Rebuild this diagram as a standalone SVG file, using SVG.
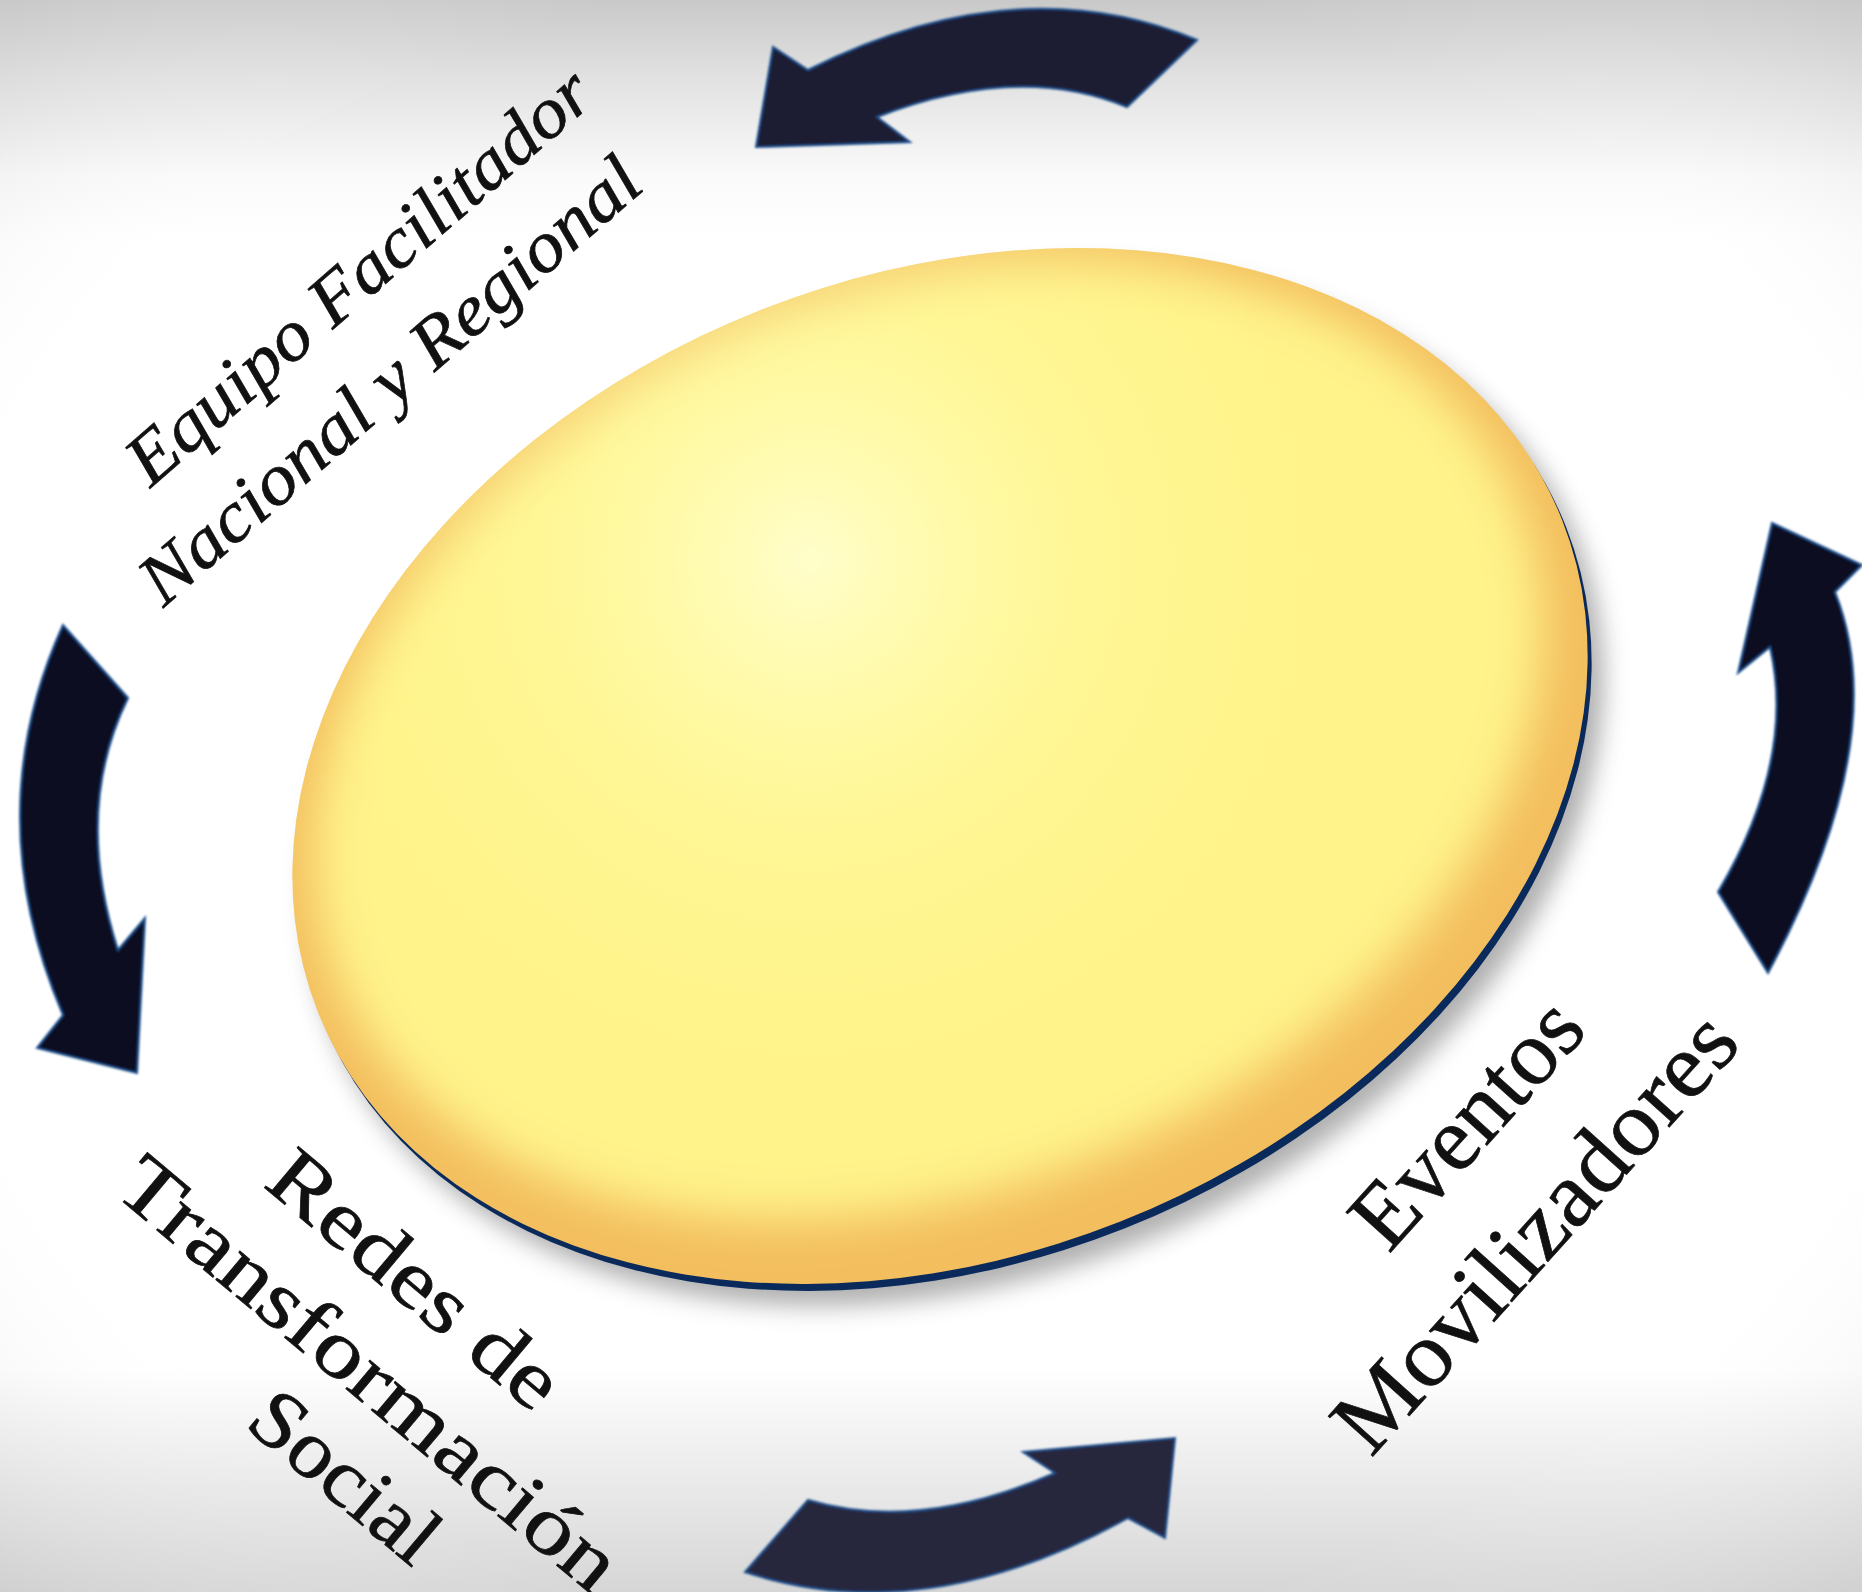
<svg xmlns="http://www.w3.org/2000/svg" width="1862" height="1592" viewBox="0 0 1862 1592">
<defs>
<linearGradient id="bg" x1="0" y1="0" x2="0" y2="1">
<stop offset="0" stop-color="#C9C9C9"/>
<stop offset="0.05" stop-color="#E2E2E2"/>
<stop offset="0.11" stop-color="#FAFAFA"/>
<stop offset="0.15" stop-color="#FFFFFF"/>
<stop offset="0.86" stop-color="#FFFFFF"/>
<stop offset="0.91" stop-color="#F0F0F0"/>
<stop offset="1" stop-color="#D6D6D6"/>
</linearGradient>
<radialGradient id="vig" cx="0.5" cy="0.5" r="0.75">
<stop offset="0.7" stop-color="#FFFFFF" stop-opacity="0"/>
<stop offset="1" stop-color="#BBBBBB" stop-opacity="0.5"/>
</radialGradient>
<radialGradient id="spot" gradientUnits="userSpaceOnUse" cx="810" cy="560" r="520">
<stop offset="0" stop-color="#FFFFD2" stop-opacity="0.9"/>
<stop offset="0.5" stop-color="#FFFFB0" stop-opacity="0.35"/>
<stop offset="1" stop-color="#FFFF9A" stop-opacity="0"/>
</radialGradient>
<clipPath id="faceClip">
<ellipse cx="940" cy="766" rx="669" ry="490" transform="rotate(-21.6 940 766)"/>
</clipPath>
<filter id="blur" x="-20%" y="-20%" width="140%" height="140%">
<feGaussianBlur stdDeviation="12"/>
</filter>
<filter id="bevel" x="-20%" y="-20%" width="140%" height="140%">
<feGaussianBlur stdDeviation="24"/>
</filter>
<filter id="soft" x="-5%" y="-5%" width="110%" height="110%">
<feGaussianBlur stdDeviation="0.8"/>
</filter>
</defs>
<style>
.arrow{stroke:#1F4F8C;stroke-width:2;stroke-linejoin:miter}
.lbl{font-family:"Liberation Serif","Times New Roman",serif;fill:#111111;stroke:#111111;stroke-width:0.7}
.it{font-style:italic}
</style>
<rect x="0" y="0" width="1862" height="1592" fill="url(#bg)"/>
<rect x="0" y="0" width="1862" height="1592" fill="url(#vig)"/>

<g id="center-disk">
<ellipse cx="956" cy="788" rx="669" ry="490" transform="rotate(-21.6 956 788)" fill="#6E6E6E" opacity="0.55" filter="url(#blur)"/>
<ellipse cx="944" cy="773" rx="669" ry="490" transform="rotate(-21.6 944 773)" fill="#0B2A5C"/>
<g clip-path="url(#faceClip)">
<rect x="250" y="220" width="1380" height="1100" fill="#F3BE5E"/>
<ellipse cx="928" cy="742" rx="636" ry="448" transform="rotate(-21.6 928 742)" fill="#FFF38A" filter="url(#bevel)"/>
<rect x="250" y="220" width="1380" height="1100" fill="url(#spot)"/>
</g>
</g>

<g id="connectors" filter="url(#soft)">
<path id="arrow-top" class="arrow" fill="#1E1E32" d="M1197,40 Q1017,-35 808,70 L773,47 L756,147 L910,142 L877,117 Q1018,62 1127,107 Z"/>
<path id="arrow-left" class="arrow" fill="#0D1024" d="M63,625 Q-23,814 63,1015 L37,1048 L137,1073 L145,918 L118,950 Q73,810 128,698 Z"/>
<path id="arrow-bottom" class="arrow" fill="#27283C" d="M808,1500 Q918,1533 1055,1473 L1023,1452 L1175,1438 L1165,1538 L1128,1518 Q924,1631 745,1572 Z"/>
<path id="arrow-right" class="arrow" fill="#0B0E22" d="M1768,973 Q1894,738 1835,592 L1862,565 L1772,523 L1738,673 L1770,647 Q1796,760 1718,892 Z"/>
</g>

<g id="label-equipo">
<text class="lbl it" font-size="72" text-anchor="middle" textLength="592" lengthAdjust="spacingAndGlyphs" transform="translate(374,294) rotate(-41)">Equipo Facilitador</text>
<text class="lbl it" font-size="72" text-anchor="middle" textLength="640" lengthAdjust="spacingAndGlyphs" transform="translate(405,398) rotate(-41)">Nacional y Regional</text>
</g>

<g id="label-redes">
<text class="lbl" font-size="82" text-anchor="middle" textLength="356" lengthAdjust="spacingAndGlyphs" transform="translate(398,1300) rotate(40)">Redes de</text>
<text class="lbl" font-size="82" text-anchor="middle" textLength="628" lengthAdjust="spacingAndGlyphs" transform="translate(352,1394) rotate(40)">Transformación</text>
<text class="lbl" font-size="82" text-anchor="middle" textLength="222" lengthAdjust="spacingAndGlyphs" transform="translate(328,1497) rotate(40)">Social</text>
</g>

<g id="label-eventos">
<text class="lbl" font-size="92" text-anchor="middle" textLength="300" lengthAdjust="spacingAndGlyphs" transform="translate(1489,1143) rotate(-48)">Eventos</text>
<text class="lbl" font-size="92" text-anchor="middle" textLength="556" lengthAdjust="spacingAndGlyphs" transform="translate(1557,1252) rotate(-48)">Movilizadores</text>
</g>
</svg>
